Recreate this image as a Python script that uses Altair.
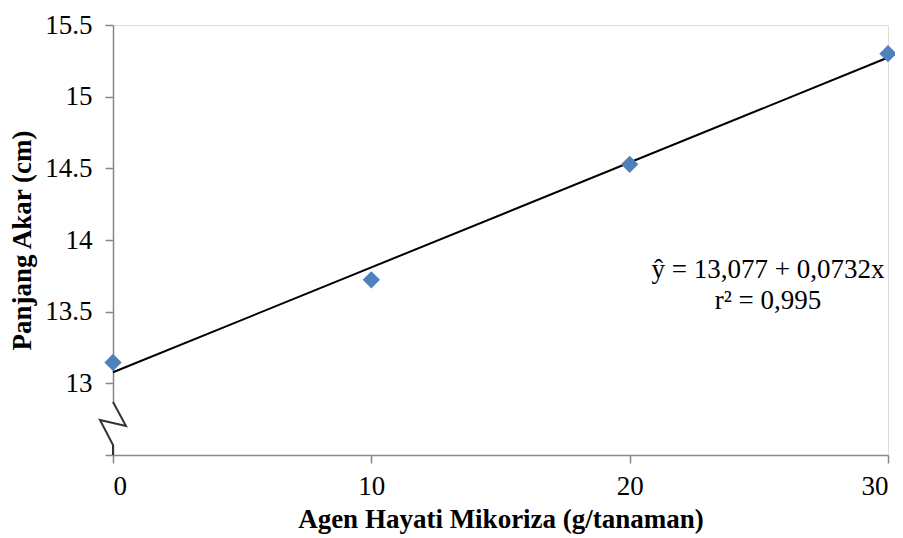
import altair as alt
import pandas as pd

# Data
dosis = [0, 10, 20, 30]
panjang_akar = [13.146, 13.722, 14.528, 15.30]
intercept = 13.077
slope = 0.0732
eq_lines = ["ŷ = 13,077 + 0,0732x", "r² = 0,995"]
x_ticks = [0, 10, 20, 30]
y_ticks = [13, 13.5, 14, 14.5, 15, 15.5]

pts = pd.DataFrame({"x": dosis, "y": panjang_akar})
trend = pd.DataFrame({"x": [min(dosis), max(dosis)]})
eq = pd.DataFrame({"t": eq_lines, "i": [0, 1]})

FONT = "Times New Roman, Liberation Serif, serif"
AXIS_COLOR = "#868686"
FS = 27

xs = alt.Scale(domain=[0, 30], nice=False, zero=False)
ys = alt.Scale(domain=[12.5, 15.5], nice=False, zero=False)

x_axis = alt.Axis(values=x_ticks, title="Agen Hayati Mikoriza (g/tanaman)",
                  labelFont=FONT, labelFontSize=FS, labelColor="black",
                  titleFont=FONT, titleFontSize=FS, titleFontWeight="bold",
                  titleColor="black", labelPadding=10, titlePadding=7,
                  domainColor=AXIS_COLOR, tickColor=AXIS_COLOR, tickSize=8,
                  domainWidth=1.5, tickWidth=1.5, grid=False)
y_axis = alt.Axis(values=[12.5] + y_ticks, title="Panjang Akar (cm)",
                  labelExpr="datum.value < 12.9 ? '' : datum.label",
                  format="~g",
                  labelFont=FONT, labelFontSize=FS, labelColor="black",
                  titleFont=FONT, titleFontSize=FS, titleFontWeight="bold",
                  titleColor="black", labelPadding=13, titlePadding=8,
                  domainColor=AXIS_COLOR, tickColor=AXIS_COLOR, tickSize=8,
                  domainWidth=1.5, tickWidth=1.5, grid=False)

line = alt.Chart(trend).transform_calculate(
    y=f"{intercept} + {slope} * datum.x"
).mark_line(color="black", strokeWidth=2).encode(
    x=alt.X("x:Q", scale=xs, axis=x_axis),
    y=alt.Y("y:Q", scale=ys, axis=y_axis),
)

points = alt.Chart(pts).mark_point(shape="diamond", filled=True, opacity=1,
                                   color="#4F81BD", size=300).encode(
    x=alt.X("x:Q", scale=xs),
    y=alt.Y("y:Q", scale=ys),
)

# axis-break glyph (decoration)
brk_box = alt.Chart(pd.DataFrame({"a": [0]})).mark_rect(color="white").encode(
    x=alt.value(-12), x2=alt.value(14), y=alt.value(378), y2=alt.value(420)
)
brk = alt.Chart(pd.DataFrame({"o": [0, 1, 2, 3, 4]})).transform_calculate(
    px="[0, 13, -13, 0, 0][datum.o]",
    py="[377, 401, 395, 420, 430][datum.o]",
).mark_line(color="#333333", strokeWidth=2).encode(
    x=alt.X("px:Q", scale=None), y=alt.Y("py:Q", scale=None), order="o:Q"
)

text = alt.Chart(eq).transform_calculate(
    yy="245 + datum.i * 31"
).mark_text(font=FONT, fontSize=FS, color="black", align="center").encode(
    x=alt.value(655), y=alt.Y("yy:Q", scale=None), text="t:N"
)

chart = alt.layer(line, brk_box, brk, points, text).properties(
    width=775, height=430,
    autosize=alt.AutoSizeParams(type="none"),
    padding={"left": 105, "top": 17, "right": 7, "bottom": 90},
).configure_view(stroke=None).configure(background="white")

chart.save("out.html", embed_options={"renderer": "svg", "actions": False})
